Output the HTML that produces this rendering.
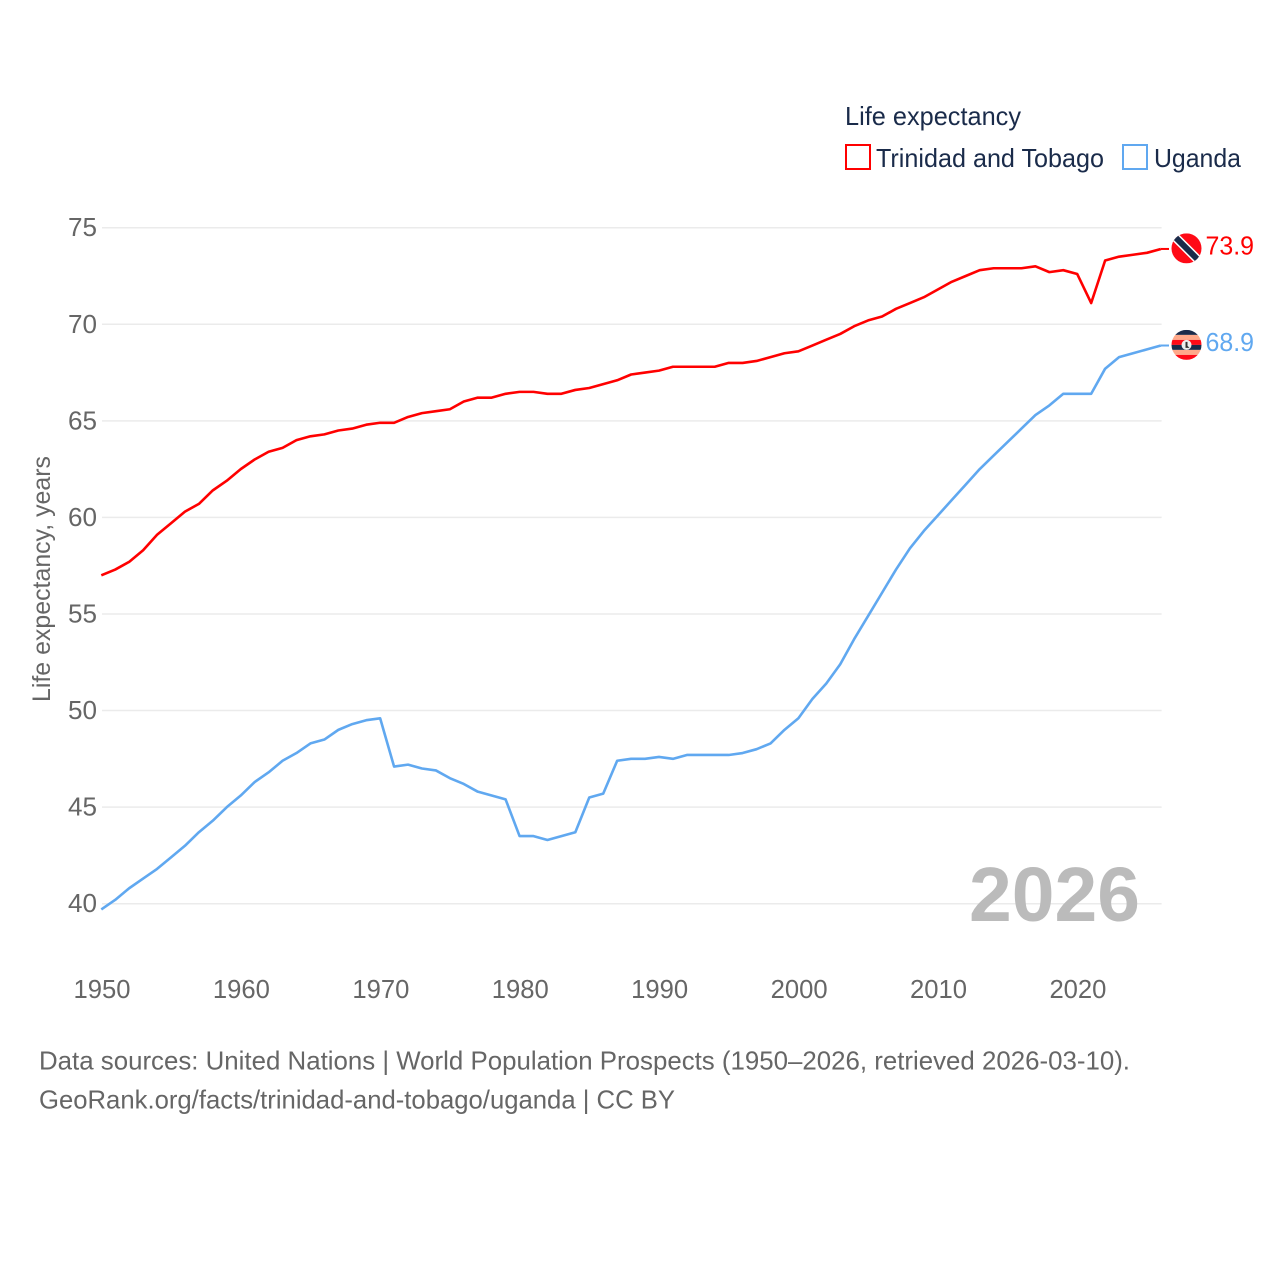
<!DOCTYPE html>
<html lang="en">
<head>
<meta charset="utf-8">
<title>Life expectancy: Trinidad and Tobago vs Uganda</title>
<style>
html,body{margin:0;padding:0;background:#fff;width:1280px;height:1280px;overflow:hidden}
svg{display:block;font-family:"Liberation Sans",sans-serif}
</style>
</head>
<body>
<svg id="chart" xmlns="http://www.w3.org/2000/svg" width="1280" height="1280" viewBox="0 0 1280 1280">
  <rect width="1280" height="1280" fill="#fff"/>
  <g id="grid"></g>
  <g id="yticks"></g>
  <g id="xticks"></g>
  <text transform="translate(50,702) rotate(-90)" font-size="25" fill="#666" textLength="246" lengthAdjust="spacingAndGlyphs">Life expectancy, years</text>
  <text x="969" y="921" font-size="77" font-weight="bold" fill="#bbb" textLength="171" lengthAdjust="spacingAndGlyphs">2026</text>
  <g id="series"></g>
  <g>
    <text x="845" y="125" font-size="26" fill="#1a2b4a" textLength="176" lengthAdjust="spacingAndGlyphs">Life expectancy</text>
    <rect x="846" y="145" width="24" height="24" fill="#fff" stroke="#ff0000" stroke-width="2"/>
    <text x="876" y="167" font-size="26" fill="#1a2b4a" textLength="228" lengthAdjust="spacingAndGlyphs">Trinidad and Tobago</text>
    <rect x="1123" y="145" width="24" height="24" fill="#fff" stroke="#60a8f0" stroke-width="2"/>
    <text x="1154" y="167" font-size="26" fill="#1a2b4a" textLength="87" lengthAdjust="spacingAndGlyphs">Uganda</text>
  </g>
  <defs>
    <clipPath id="flag-clip"><circle cx="0" cy="0" r="15"/></clipPath>
  </defs>
  <g id="flag-trinidad">
    <g clip-path="url(#flag-clip)">
      <rect x="-15" y="-15" width="30" height="30" fill="#ff0a16"/>
      <line x1="-15" y1="-15" x2="15" y2="15" stroke="#fff" stroke-width="9"/>
      <line x1="-15" y1="-15" x2="15" y2="15" stroke="#1a2b4a" stroke-width="6"/>
    </g>
  </g>
  <g id="flag-uganda">
    <g clip-path="url(#flag-clip)">
      <rect x="-15" y="-15" width="30" height="5" fill="#1a2b4a"/>
      <rect x="-15" y="-10" width="30" height="5" fill="#ffa98a"/>
      <rect x="-15" y="-5" width="30" height="5" fill="#ff0a16"/>
      <rect x="-15" y="0" width="30" height="5" fill="#1a2b4a"/>
      <rect x="-15" y="5" width="30" height="5" fill="#ffa98a"/>
      <rect x="-15" y="10" width="30" height="5" fill="#ff0a16"/>
      <circle cx="0" cy="0" r="5" fill="#eee"/>
      <path d="M-1 -3 L1 -3 L1 1 L3 3 L-1 3Z" fill="#333"/>
    </g>
  </g>
  <g id="endlabels"></g>
  <g>
    <text x="39" y="1069.5" font-size="26" fill="#666" textLength="1091" lengthAdjust="spacingAndGlyphs">Data sources: United Nations | World Population Prospects (1950–2026, retrieved 2026-03-10).</text>
    <text x="39" y="1108.5" font-size="26" fill="#666" textLength="636" lengthAdjust="spacingAndGlyphs">GeoRank.org/facts/trinidad-and-tobago/uganda | CC BY</text>
  </g>
</svg>
<script>
const years = [1950,1951,1952,1953,1954,1955,1956,1957,1958,1959,1960,1961,1962,1963,1964,1965,1966,1967,1968,1969,1970,1971,1972,1973,1974,1975,1976,1977,1978,1979,1980,1981,1982,1983,1984,1985,1986,1987,1988,1989,1990,1991,1992,1993,1994,1995,1996,1997,1998,1999,2000,2001,2002,2003,2004,2005,2006,2007,2008,2009,2010,2011,2012,2013,2014,2015,2016,2017,2018,2019,2020,2021,2022,2023,2024,2025,2026];
const trinidad = [57.0,57.3,57.7,58.3,59.1,59.7,60.3,60.7,61.4,61.9,62.5,63.0,63.4,63.6,64.0,64.2,64.3,64.5,64.6,64.8,64.9,64.9,65.2,65.4,65.5,65.6,66.0,66.2,66.2,66.4,66.5,66.5,66.4,66.4,66.6,66.7,66.9,67.1,67.4,67.5,67.6,67.8,67.8,67.8,67.8,68.0,68.0,68.1,68.3,68.5,68.6,68.9,69.2,69.5,69.9,70.2,70.4,70.8,71.1,71.4,71.8,72.2,72.5,72.8,72.9,72.9,72.9,73.0,72.7,72.8,72.6,71.1,73.3,73.5,73.6,73.7,73.9];
const uganda = [39.7,40.2,40.8,41.3,41.8,42.4,43.0,43.7,44.3,45.0,45.6,46.3,46.8,47.4,47.8,48.3,48.5,49.0,49.3,49.5,49.6,47.1,47.2,47.0,46.9,46.5,46.2,45.8,45.6,45.4,43.5,43.5,43.3,43.5,43.7,45.5,45.7,47.4,47.5,47.5,47.6,47.5,47.7,47.7,47.7,47.7,47.8,48.0,48.3,49.0,49.6,50.6,51.4,52.4,53.7,54.9,56.1,57.3,58.4,59.3,60.1,60.9,61.7,62.5,63.2,63.9,64.6,65.3,65.8,66.4,66.4,66.4,67.7,68.3,68.5,68.7,68.9];
const yTickValues = [40,45,50,55,60,65,70,75];
const xTickValues = [1950,1960,1970,1980,1990,2000,2010,2020];

const NS = 'http://www.w3.org/2000/svg';
const xScale = function (year) { return 102 + (year - 1950) * (1161.6 - 102) / 76; };
const yScale = function (value) { return 903.7 - (value - 40) * (903.7 - 227.7) / 35; };
const LINE_SHIFT_X = -0.7;

function make(tag, parentId, attrs, text) {
  const el = document.createElementNS(NS, tag);
  Object.keys(attrs).forEach(function (k) { el.setAttribute(k, attrs[k]); });
  if (text !== undefined) el.textContent = text;
  document.getElementById(parentId).appendChild(el);
  return el;
}

yTickValues.forEach(function (v) {
  const line = make('line', 'grid', {x1: 102, x2: 1161.6, y1: yScale(v), y2: yScale(v), stroke: '#ebebeb', 'stroke-width': 1.5});
  
  
  const label = make('text', 'yticks', {x: 97, y: yScale(v) + 8.5, 'font-size': 26, fill: '#666', 'text-anchor': 'end', textLength: 29, lengthAdjust: 'spacingAndGlyphs'}, String(v));
  
  
});

xTickValues.forEach(function (v) {
  const label = make('text', 'xticks', {x: xScale(v), y: 998, 'font-size': 26, fill: '#666', 'text-anchor': 'middle', textLength: 57, lengthAdjust: 'spacingAndGlyphs'}, String(v));
  
  
});

function pathFor(values) {
  return values.map(function (v, i) {
    return (i ? 'L' : 'M') + (xScale(years[i]) + LINE_SHIFT_X).toFixed(2) + ' ' + yScale(v).toFixed(2);
  }).join(' ');
}

const trinidadLine = make('path', 'series', {d: pathFor(trinidad), fill: 'none', stroke: '#ff0000', 'stroke-width': 2.6, 'stroke-linejoin': 'round'});


const ugandaLine = make('path', 'series', {d: pathFor(uganda), fill: 'none', stroke: '#60a8f0', 'stroke-width': 2.6, 'stroke-linejoin': 'round'});



const tLast = trinidad[trinidad.length - 1];
const uLast = uganda[uganda.length - 1];
const tConn = make('line', 'series', {x1: 1161, x2: 1169, y1: yScale(tLast), y2: yScale(tLast), stroke: '#ff0000', 'stroke-width': 2});


const uConn = make('line', 'series', {x1: 1161, x2: 1169, y1: yScale(uLast), y2: yScale(uLast), stroke: '#60a8f0', 'stroke-width': 2});



document.getElementById('flag-trinidad').setAttribute('transform', 'translate(1186.5,' + (yScale(tLast) - 0.6) + ')');
document.getElementById('flag-uganda').setAttribute('transform', 'translate(1186.5,' + (yScale(uLast) - 0.6) + ')');

const tLabel = make('text', 'endlabels', {x: 1205.5, y: yScale(tLast) + 5.5, 'font-size': 26, fill: '#ff0000', textLength: 48.5, lengthAdjust: 'spacingAndGlyphs'}, tLast.toFixed(1));


const uLabel = make('text', 'endlabels', {x: 1205.5, y: yScale(uLast) + 5.5, 'font-size': 26, fill: '#60a8f0', textLength: 48.5, lengthAdjust: 'spacingAndGlyphs'}, uLast.toFixed(1));


</script>
</body>
</html>
